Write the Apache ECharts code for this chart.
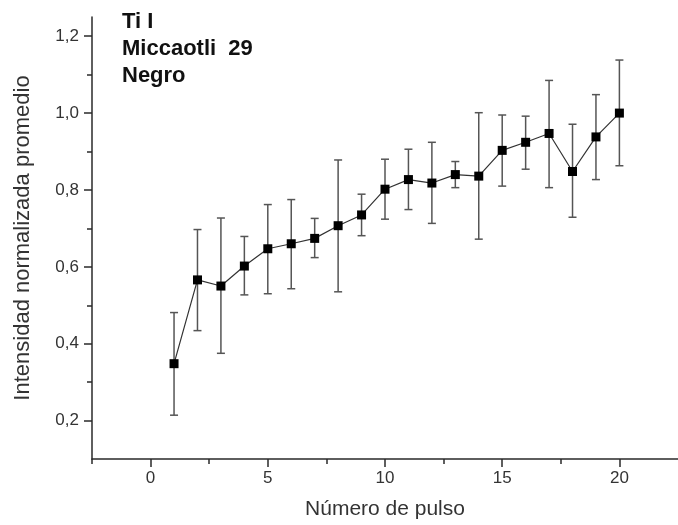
<!DOCTYPE html>
<html>
<head>
<meta charset="utf-8">
<script src="https://cdn.jsdelivr.net/npm/echarts@6/dist/echarts.min.js"></script>
<style>
html,body{margin:0;padding:0;background:#fff;}
#chart{width:678px;height:525px;}
</style>
</head>
<body>
<div id="chart"></div>
<script>
// ---- data ----
const pulses = [1,2,3,4,5,6,7,8,9,10,11,12,13,14,15,16,17,18,19,20];
const means  = [0.348,0.566,0.550,0.602,0.647,0.660,0.674,0.707,0.735,0.802,0.827,0.818,0.840,0.836,0.903,0.924,0.947,0.848,0.938,1.000];
const lowers = [0.214,0.434,0.375,0.527,0.530,0.543,0.624,0.535,0.681,0.724,0.749,0.713,0.806,0.672,0.810,0.854,0.806,0.729,0.827,0.863];
const uppers = [0.481,0.697,0.727,0.679,0.762,0.775,0.726,0.878,0.789,0.880,0.906,0.924,0.874,1.001,0.995,0.992,1.085,0.971,1.048,1.138];
const xMajorTicks = [0,5,10,15,20];
const xMinorTicks = [-2.5,2.5,7.5,12.5,17.5];
const yMajorTicks = [0.2,0.4,0.6,0.8,1.0,1.2];
const yMinorTicks = [0.3,0.5,0.7,0.9,1.1];
const titleLines = ['Ti I','Miccaotli  29','Negro'];
const xTitle = 'Número de pulso';
const yTitle = 'Intensidad normalizada promedio';

const FONT = '"Liberation Sans", Arial, Helvetica, sans-serif';
const AX = '#2a2a2a';

const chart = echarts.init(document.getElementById('chart'), null, {renderer:'canvas'});

const lineData = pulses.map((p,i)=>[p, means[i]]);
const errData = pulses.map((p,i)=>[p, lowers[i], uppers[i]]);

const baseX = {
  type:'value', min:-2.5, max:22.5, gridIndex:0, position:'bottom',
  splitLine:{show:false}
};
const baseY = {
  type:'value', min:0.1, max:1.25, gridIndex:0, position:'left',
  splitLine:{show:false}
};

chart.setOption({
  backgroundColor:'#fff',
  animation:false,
  grid:{left:92, right:-7.5, top:17, bottom:66, containLabel:false},
  xAxis:[
    Object.assign({}, baseX, {
      axisLine:{show:true, onZero:false, lineStyle:{color:AX, width:1.5}},
      axisTick:{show:true, customValues:xMajorTicks, length:8, lineStyle:{color:AX, width:1.5}},
      axisLabel:{show:true, customValues:xMajorTicks, margin:11, fontSize:17, color:'#333', fontFamily:FONT,
        formatter:v=>String(v)},
      name:xTitle, nameLocation:'middle', nameGap:40,
      nameTextStyle:{fontSize:21, color:'#333', fontFamily:FONT}
    }),
    Object.assign({}, baseX, {
      axisLine:{show:false, onZero:false},
      axisTick:{show:true, customValues:xMinorTicks, length:5, lineStyle:{color:AX, width:1.5}},
      axisLabel:{show:false}
    })
  ],
  yAxis:[
    Object.assign({}, baseY, {
      axisLine:{show:true, onZero:false, lineStyle:{color:AX, width:1.5}},
      axisTick:{show:true, customValues:yMajorTicks, length:8, lineStyle:{color:AX, width:1.5}},
      axisLabel:{show:true, customValues:yMajorTicks, margin:13, fontSize:17, color:'#333', fontFamily:FONT,
        formatter:v=>Number(v).toFixed(1).replace('.',',')},
      name:yTitle, nameLocation:'middle', nameGap:58,
      nameTextStyle:{fontSize:22, color:'#333', fontFamily:FONT}
    }),
    Object.assign({}, baseY, {
      axisLine:{show:false, onZero:false},
      axisTick:{show:true, customValues:yMinorTicks, length:5, lineStyle:{color:AX, width:1.5}},
      axisLabel:{show:false}
    })
  ],
  graphic:[{
    type:'text', left:122, top:8,
    style:{text:titleLines.join('\n'), fontSize:22, fontWeight:'bold', fontFamily:FONT,
      fill:'#111', lineHeight:27}
  }],
  series:[
    {
      type:'custom', xAxisIndex:0, yAxisIndex:0, z:2,
      data:errData,
      renderItem:function(params, api){
        const x = api.value(0);
        const lo = api.coord([x, api.value(1)]);
        const hi = api.coord([x, api.value(2)]);
        const w = 4;
        const st = {stroke:'#555', lineWidth:1.5};
        return {type:'group', children:[
          {type:'line', shape:{x1:lo[0], y1:lo[1], x2:hi[0], y2:hi[1]}, style:st},
          {type:'line', shape:{x1:lo[0]-w, y1:lo[1], x2:lo[0]+w, y2:lo[1]}, style:st},
          {type:'line', shape:{x1:hi[0]-w, y1:hi[1], x2:hi[0]+w, y2:hi[1]}, style:st}
        ]};
      }
    },
    {
      type:'line', xAxisIndex:0, yAxisIndex:0, z:3,
      data:lineData,
      symbol:'rect', symbolSize:9,
      itemStyle:{color:'#000'},
      lineStyle:{color:'#333', width:1.2}
    }
  ]
});
</script>
</body>
</html>
